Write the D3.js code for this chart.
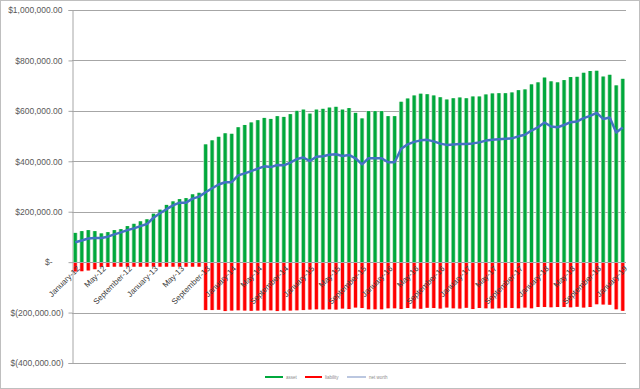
<!DOCTYPE html>
<html>
<head>
<meta charset="utf-8">
<script src="https://cdn.jsdelivr.net/npm/d3@7"></script>
<style>
  html, body { margin: 0; padding: 0; background: #fff; }
  svg { display: block; font-family: "Liberation Sans", Arial, sans-serif; }
</style>
</head>
<body>
<svg id="chart" width="640" height="389"></svg>
<script>
// ---- Data (thousands of dollars) ----
const categories = [
  "Jan-12","Feb-12","Mar-12","Apr-12","May-12","Jun-12","Jul-12","Aug-12","Sep-12","Oct-12","Nov-12","Dec-12",
  "Jan-13","Feb-13","Mar-13","Apr-13","May-13","Jun-13","Jul-13","Aug-13","Sep-13","Oct-13","Nov-13","Dec-13",
  "Jan-14","Feb-14","Mar-14","Apr-14","May-14","Jun-14","Jul-14","Aug-14","Sep-14","Oct-14","Nov-14","Dec-14",
  "Jan-15","Feb-15","Mar-15","Apr-15","May-15","Jun-15","Jul-15","Aug-15","Sep-15","Oct-15","Nov-15","Dec-15",
  "Jan-16","Feb-16","Mar-16","Apr-16","May-16","Jun-16","Jul-16","Aug-16","Sep-16","Oct-16","Nov-16","Dec-16",
  "Jan-17","Feb-17","Mar-17","Apr-17","May-17","Jun-17","Jul-17","Aug-17","Sep-17","Oct-17","Nov-17","Dec-17",
  "Jan-18","Feb-18","Mar-18","Apr-18","May-18","Jun-18","Jul-18","Aug-18","Sep-18","Oct-18","Nov-18","Dec-18",
  "Jan-19"
];
const tickLabels = [
  "January-12","May-12","September-12","January-13","May-13","September-13",
  "January-14","May-14","September-14","January-15","May-15","September-15",
  "January-16","May-16","September-16","January-17","May-17","September-17",
  "January-18","May-18","September-18","January-19"
];
const assets = [
  116,123,127,123,114,119,127,131,143,152,162,170,192,208,227,241,250,254,269,275,
  467,483,497,511,509,535,544,554,563,572,
  568,579,576,587,600,605,589,605,608,613,
  616,605,611,592,570,599,599,599,579,579,
  636,649,661,668,666,661,654,645,650,653,
  650,657,657,665,669,670,670,673,682,685,
  705,713,732,717,713,722,734,735,751,758,
  759,736,743,701,727
];
const liabilities = [
  -37,-36,-33,-28,-19,-19,-18,-18,-18,-18,-18,-18,-18,-18,-18,-18,-18,-18,-18,-18,
  -190,-190,-189,-194,-192,-191,-192,-193,-192,-192,
  -191,-194,-192,-192,-191,-190,-188,-187,-188,-187,
  -188,-184,-186,-180,-182,-187,-187,-187,-183,-183,
  -186,-182,-184,-185,-181,-182,-184,-180,-183,-184,
  -181,-186,-182,-183,-184,-183,-181,-182,-183,-180,
  -183,-178,-178,-179,-178,-178,-179,-177,-180,-178,
  -167,-168,-169,-187,-193
];
const netWorth = [
  79,86,94,96,96,101,110,118,127,134,143,151,176,194,210,225,236,236,252,260,
  277,293,308,317,317,344,352,361,371,380,
  377,385,384,395,409,415,401,418,420,426,
  428,421,425,412,388,412,412,412,396,396,
  450,467,477,483,485,479,470,465,467,469,
  469,471,475,482,485,487,489,491,499,505,
  522,535,554,538,535,544,555,558,571,580,
  592,568,574,514,534
];
const yTicks = [-400000,-200000,0,200000,400000,600000,800000,1000000];
const seriesNames = ["asset", "liability", "net worth"];
const seriesColors = ["#00a83c", "#ff0000", "#4472c4"];

// ---- Layout ----
const svg = d3.select("#chart");
const W = 640, H = 389;
const plot = { left: 72, right: 626, top: 10, bottom: 363 };

svg.append("rect").attr("x", 0.5).attr("y", 0.5).attr("width", W - 1).attr("height", H - 1)
  .attr("fill", "#fff").attr("stroke", "#bfbfbf");

const x = d3.scaleBand().domain(categories).range([plot.left, plot.right]).paddingInner(0).paddingOuter(0);
const y = d3.scaleLinear().domain([-400000, 1000000]).range([plot.bottom, plot.top]);

// gridlines
svg.append("g").selectAll("line").data(yTicks).join("line")
  .attr("x1", plot.left).attr("x2", plot.right)
  .attr("y1", d => Math.round(y(d)) + 0.5).attr("y2", d => Math.round(y(d)) + 0.5)
  .attr("stroke", "#a6a6a6").attr("stroke-width", 1);

// y axis
const fmt = d => {
  if (d === 0) return "$-";
  const s = d3.format(",.2f")(Math.abs(d));
  return d < 0 ? "$(" + s + ")" : "$" + s;
};
const yAxis = d3.axisLeft(y).tickValues(yTicks).tickSize(4).tickPadding(6).tickFormat(fmt);
const gy = svg.append("g").attr("transform", `translate(${plot.left + 0.5},0)`).call(yAxis);
gy.select(".domain").attr("stroke", "#a6a6a6");
gy.selectAll(".tick line").attr("stroke", "#a6a6a6");
gy.selectAll(".tick text").attr("fill", "#595959").attr("font-size", "8.5px")
  .attr("font-family", "Liberation Sans, Arial, sans-serif")
  .attr("dx", d => d === 0 ? -10 : (d < 0 ? 1 : 0));

// bars
const bw = 3;
const cx = c => x(c) + x.bandwidth() / 2;
const barG = svg.append("g");
function drawBars(vals, color, light) {
  const data = categories.map((c, i) => ({ c, v: vals[i] * 1000 }));
  barG.append("g").selectAll("rect").data(data).join("rect")
    .attr("x", d => cx(d.c) - bw / 2 - 0.7).attr("width", bw + 1.4)
    .attr("y", d => Math.min(y(d.v), y(0))).attr("height", d => Math.abs(y(d.v) - y(0)))
    .attr("fill", light);
  barG.append("g").selectAll("rect").data(data).join("rect")
    .attr("x", d => cx(d.c) - bw / 2).attr("width", bw)
    .attr("y", d => Math.min(y(d.v), y(0))).attr("height", d => Math.abs(y(d.v) - y(0)))
    .attr("fill", color);
}
drawBars(assets, seriesColors[0], "#a8dcb4");
drawBars(liabilities, seriesColors[1], "#ffb0b0");

// zero line
svg.append("line").attr("x1", plot.left).attr("x2", plot.right)
  .attr("y1", Math.round(y(0)) + 0.5).attr("y2", Math.round(y(0)) + 0.5)
  .attr("stroke", "#a6a6a6");

// net worth line
const line = d3.line().x((d, i) => cx(categories[i])).y(d => y(d * 1000));
svg.append("path").datum(netWorth).attr("d", line)
  .attr("fill", "none").attr("stroke", seriesColors[2]).attr("stroke-width", 2.5)
  .attr("stroke-linejoin", "round");

// x labels
const labelCats = categories.filter((c, i) => i % 4 === 0);
svg.append("g").selectAll("text").data(labelCats).join("text")
  .attr("transform", d => `translate(${cx(d) + 3},${y(0) + 5}) rotate(-45)`)
  .attr("text-anchor", "end").attr("dy", "0.35em")
  .attr("font-size", "8px").attr("fill", "#404040")
  .text((d, i) => tickLabels[i]);

// legend
const legend = [
  { x1: 265, x2: 283, tx: 286 },
  { x1: 305, x2: 322, tx: 325 },
  { x1: 347, x2: 366, tx: 369 }
];
const lg = svg.append("g");
legend.forEach((l, i) => {
  lg.append("line").attr("x1", l.x1).attr("x2", l.x2).attr("y1", 377).attr("y2", 377)
    .attr("stroke", i === 2 ? "#8ea2cc" : seriesColors[i]).attr("stroke-width", i === 2 ? 1.2 : 2);
  lg.append("text").attr("x", l.tx).attr("y", 378.5).attr("font-size", "4.5px")
    .attr("fill", "#8c8c8c").text(seriesNames[i]);
});
</script>
</body>
</html>
